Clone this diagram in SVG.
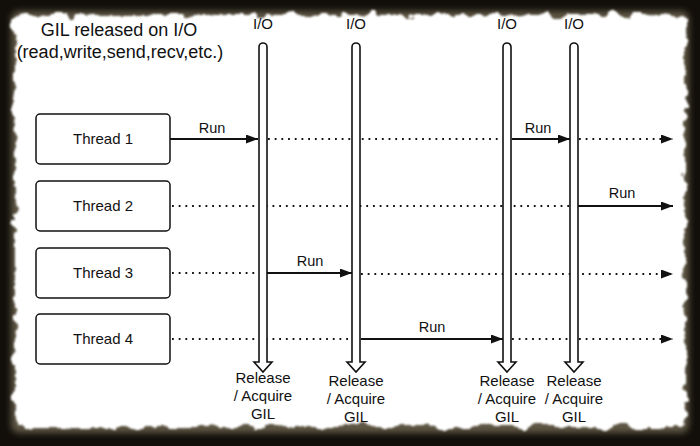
<svg xmlns="http://www.w3.org/2000/svg" width="700" height="446" viewBox="0 0 700 446">
<style>
text{font-family:"Liberation Sans",Arial,sans-serif;fill:#111}
.box{fill:#fff;stroke:#111;stroke-width:1.5}
.lbl{font-size:14.5px;text-anchor:middle}
.th{font-size:15px;text-anchor:middle}
.io{font-size:15px;text-anchor:middle}
.solid{stroke:#111;stroke-width:1.8;fill:none}
.dot{stroke:#111;stroke-width:1.8;fill:none;stroke-dasharray:1.8 4.9}
.bar{fill:#fff;stroke:#111;stroke-width:1.6}
.gil{font-size:15px;text-anchor:middle}
</style>
<defs>
<marker id="ah" markerWidth="12" markerHeight="9" refX="12" refY="4.5" orient="auto" markerUnits="userSpaceOnUse">
<path d="M0,0 L12,4.5 L0,9 Z" fill="#111"/>
</marker>
<filter id="grunge" x="-5%" y="-5%" width="110%" height="110%">
<feTurbulence type="fractalNoise" baseFrequency="0.06" numOctaves="4" seed="3" result="n"/>
<feDisplacementMap in="SourceGraphic" in2="n" scale="14" xChannelSelector="R" yChannelSelector="G" result="d"/>
<feGaussianBlur in="d" stdDeviation="1.2"/>
</filter>
<filter id="soft"><feGaussianBlur stdDeviation="3"/></filter>
</defs>
<rect width="700" height="446" fill="#120f0a"/>
<rect x="11" y="11" width="678" height="422" rx="8" fill="#5e5645" filter="url(#soft)"/>
<rect x="15" y="15" width="670" height="412" rx="6" fill="#ffffff" filter="url(#grunge)"/>
<rect x="24" y="24" width="652" height="394" fill="#ffffff"/>

<g id="title">
<text x="119" y="36" font-size="18" text-anchor="middle">GIL released on I/O</text>
<text x="120" y="58" font-size="18" text-anchor="middle">(read,write,send,recv,etc.)</text>
</g>

<g id="connectors">
<!-- Thread 1 -->
<line class="solid" x1="170" y1="139" x2="258" y2="139" marker-end="url(#ah)"/>
<text class="lbl" x="212" y="133">Run</text>
<line class="dot" x1="268" y1="139" x2="502" y2="139"/>
<line class="solid" x1="512" y1="139" x2="570" y2="139" marker-end="url(#ah)"/>
<text class="lbl" x="538" y="133">Run</text>
<line class="dot" x1="579" y1="139" x2="673" y2="139" marker-end="url(#ah)"/>
<!-- Thread 2 -->
<line class="dot" x1="172" y1="206" x2="570" y2="206"/>
<line class="solid" x1="578" y1="206" x2="673" y2="206" marker-end="url(#ah)"/>
<text class="lbl" x="622" y="198">Run</text>
<!-- Thread 3 -->
<line class="dot" x1="172" y1="273" x2="259" y2="273"/>
<line class="solid" x1="267" y1="273" x2="352" y2="273" marker-end="url(#ah)"/>
<text class="lbl" x="310" y="266">Run</text>
<line class="dot" x1="361" y1="274" x2="673" y2="274" marker-end="url(#ah)"/>
<!-- Thread 4 -->
<line class="dot" x1="172" y1="339" x2="352" y2="339"/>
<line class="solid" x1="361" y1="339" x2="503" y2="339" marker-end="url(#ah)"/>
<text class="lbl" x="432" y="332">Run</text>
<line class="dot" x1="512" y1="339" x2="673" y2="339" marker-end="url(#ah)"/>
</g>

<g id="thread1"><rect class="box" x="36" y="114" width="134" height="50" rx="4"/><text class="th" x="103" y="144">Thread 1</text></g>
<g id="thread2"><rect class="box" x="36" y="181" width="134" height="50" rx="4"/><text class="th" x="103" y="211">Thread 2</text></g>
<g id="thread3"><rect class="box" x="36" y="248" width="134" height="50" rx="4"/><text class="th" x="103" y="278">Thread 3</text></g>
<g id="thread4"><rect class="box" x="36" y="314" width="134" height="50" rx="4"/><text class="th" x="103" y="344">Thread 4</text></g>

<g id="io1">
<text class="io" x="263" y="29">I/O</text>
<path class="bar" d="M259,47 A4,4 0 0 1 267,47 L267,362 L272,362 L263,372 L254,362 L259,362 Z"/>
<text class="gil" x="263" y="383">Release</text>
<text class="gil" x="263" y="401">/ Acquire</text>
<text class="gil" x="263" y="419">GIL</text>
</g>
<g id="io2">
<text class="io" x="356" y="29">I/O</text>
<path class="bar" d="M352,47 A4,4 0 0 1 360,47 L360,362 L365,362 L356,372 L347,362 L352,362 Z"/>
<text class="gil" x="356" y="386">Release</text>
<text class="gil" x="356" y="404">/ Acquire</text>
<text class="gil" x="356" y="422">GIL</text>
</g>
<g id="io3">
<text class="io" x="507" y="29">I/O</text>
<path class="bar" d="M503,47 A4,4 0 0 1 511,47 L511,362 L516,362 L507,372 L498,362 L503,362 Z"/>
<text class="gil" x="507" y="386">Release</text>
<text class="gil" x="507" y="404">/ Acquire</text>
<text class="gil" x="507" y="422">GIL</text>
</g>
<g id="io4">
<text class="io" x="574" y="29">I/O</text>
<path class="bar" d="M570,47 A4,4 0 0 1 578,47 L578,362 L583,362 L574,372 L565,362 L570,362 Z"/>
<text class="gil" x="574" y="386">Release</text>
<text class="gil" x="574" y="404">/ Acquire</text>
<text class="gil" x="574" y="422">GIL</text>
</g>
</svg>
